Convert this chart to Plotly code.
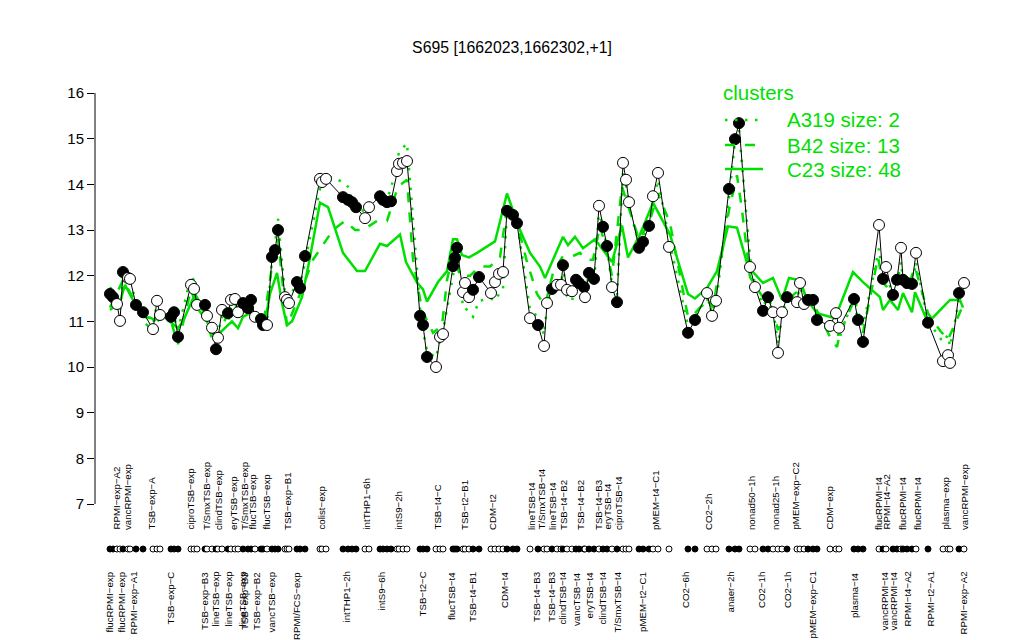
import plotly.graph_objects as go

# ---------------- data ----------------
cond_pos = [110,113,117,120,123,128,130,136,143,153,
            157,160,171,174,178,191,194,197,205,207,
            212,216,218,222,228,231,235,238,243,248,
            251,255,261,263,267,272,275,278,285,287,
            289,297,300,305,320,322,326,343,348,352,
            356,365,369,380,383,387,391,397,399,403,
            407,420,423,427,436,440,443,453,455,457,
            463,465,469,473,479,491,495,499,503,507,
            513,517,530,538,544,547,552,557,561,563,
            567,572,576,579,584,585,589,594,599,603,
            607,612,617,623,626,629,639,643,649,653,
            658,669,688,695,707,712,716,729,735,739,
            750,755,763,768,773,778,782,787,797,800,
            804,808,813,817,830,836,839,854,858,863,
            879,883,886,893,897,901,903,907,912,916,
            928,943,948,950,959,964]

expr = [11.60,11.53,11.38,11.01,12.08,11.95,11.93,11.36,11.20,10.83,
        11.45,11.14,11.10,11.20,10.66,11.80,11.71,11.36,11.36,11.12,
        10.86,10.39,10.64,11.25,11.18,11.47,11.49,11.20,11.40,11.29,
        11.47,11.10,11.05,10.92,10.92,12.41,12.56,13.00,11.53,11.47,
        11.40,11.86,11.73,12.43,14.12,14.05,14.12,13.72,13.66,13.61,
        13.50,13.26,13.50,13.74,13.66,13.61,13.63,14.29,14.45,14.47,
        14.51,11.12,10.92,10.22,10.00,10.66,10.72,12.21,12.39,12.61,
        11.64,11.84,11.53,11.69,11.97,11.62,11.86,12.04,12.08,13.42,
        13.33,13.15,11.07,10.92,10.46,11.40,11.71,11.80,11.80,12.23,
        11.69,11.66,11.91,11.84,11.75,11.53,12.06,11.93,13.53,13.07,
        12.65,11.75,11.42,14.47,14.10,13.61,12.61,12.74,13.09,13.74,
        14.25,12.63,10.75,11.03,11.62,11.12,11.45,13.90,14.99,15.34,
        12.19,11.75,11.23,11.53,11.20,10.31,11.20,11.53,11.42,11.84,
        11.38,11.47,11.47,11.03,10.90,11.18,10.86,11.49,11.03,10.55,
        13.11,11.93,12.19,11.58,11.91,12.61,11.91,11.84,11.82,12.50,
        10.97,10.13,10.26,10.09,11.62,11.84]

# 1 = filled (black), 0 = open (white)
filled = [1,1,0,0,1,0,0,1,1,0,
          0,0,1,1,1,0,0,0,1,0,
          0,1,0,0,1,0,0,0,1,1,
          1,0,1,1,0,1,1,1,0,0,
          0,1,1,1,0,0,0,1,1,1,
          1,0,0,1,1,1,1,0,0,0,
          0,1,1,1,0,0,0,1,1,1,
          0,0,0,1,1,0,0,0,0,1,
          1,1,0,1,0,0,1,0,0,1,
          0,0,1,1,1,0,1,1,0,1,
          1,0,1,0,0,0,1,1,1,0,
          0,0,1,1,0,0,0,1,1,1,
          0,0,1,1,0,0,0,1,0,0,
          0,1,1,1,0,0,0,1,1,1,
          0,1,0,1,1,0,1,1,1,0,
          1,0,0,0,1,0]

a319 = [11.75,11.65,11.45,11.2,11.95,11.9,11.85,11.45,11.3,10.95,
        11.4,11.15,11.05,11.1,10.8,12.0,11.9,11.5,11.3,11.1,
        10.85,10.6,10.75,11.1,11.0,11.3,11.4,11.2,11.35,11.3,
        11.4,11.2,11.1,10.95,11.0,12.35,12.7,13.25,11.6,11.55,
        11.5,11.85,11.8,12.3,13.9,14.0,14.2,14.05,13.95,13.7,
        13.5,13.4,13.55,13.8,13.75,13.7,13.9,14.5,14.7,14.8,
        14.9,11.3,10.8,10.35,10.2,10.6,10.8,12.0,12.3,12.6,
        11.3,11.3,11.2,11.1,11.45,11.5,11.45,11.6,11.7,13.45,
        13.3,13.2,11.25,11.1,10.7,11.3,11.7,11.8,11.75,12.2,
        11.55,11.45,11.8,11.75,11.6,11.5,12.1,11.8,13.45,13.0,
        12.6,11.8,11.55,14.3,14.0,13.5,12.7,12.85,13.15,13.6,
        14.1,12.8,10.9,11.1,11.5,11.2,11.4,13.7,14.95,15.2,
        12.4,11.8,11.35,11.5,11.3,10.5,11.1,11.6,11.5,11.75,
        11.5,11.45,11.4,11.1,10.75,11.0,10.6,11.55,11.2,10.9,
        12.6,11.9,12.0,11.6,11.8,12.3,11.85,11.8,11.75,12.3,
        11.0,10.55,10.7,10.45,11.45,11.6]

b42_x = [110,123,136,143,153,160,171,178,191,197,207,216,222,231,243,251,263,272,278,287,
         300,313,333,345,355,363,377,387,398,407,413,422,433,442,447,453,460,470,480,490,
         500,507,517,527,537,545,553,562,570,580,587,593,600,607,612,622,627,639,649,658,
         670,688,695,707,713,729,737,742,750,760,773,778,787,800,813,830,837,840,853,863,
         878,883,890,900,907,915,928,940,948,962]
b42_y = [11.3,11.9,11.4,11.0,10.8,11.1,11.0,10.5,11.7,11.3,11.0,10.3,10.9,11.3,11.3,11.2,10.9,12.2,12.8,10.9,
         11.6,12.35,13.0,13.2,13.0,13.0,13.2,13.2,13.95,14.1,12.35,11.25,10.75,10.9,11.9,12.5,12.0,12.0,12.2,12.2,
         12.4,13.5,13.15,12.3,11.6,11.35,12.06,12.4,12.4,12.5,12.35,12.35,13.1,12.5,12.0,13.95,13.6,12.8,13.15,13.8,
         13.15,11.1,11.18,11.47,11.3,13.44,14.2,13.44,11.97,11.62,11.25,10.81,11.47,11.7,11.4,10.66,10.44,10.75,11.4,10.75,
         12.4,11.84,11.69,12.06,11.69,12.19,11.18,10.8,10.6,11.3]

c23_x = [110,120,125,132,137,143,150,155,160,168,178,183,195,200,207,215,225,232,238,243,
         250,257,265,270,277,282,287,292,302,310,320,328,343,357,365,380,387,400,406,417,
         423,427,438,447,453,457,462,469,477,495,507,520,530,540,545,563,568,575,583,595,
         612,622,628,640,653,670,688,695,707,717,728,737,748,763,773,782,789,800,807,817,
         835,853,863,880,883,890,898,903,912,915,928,950,960,963]
c23_y = [11.25,11.43,11.8,11.5,11.3,11.1,11.08,11.03,11.2,11.03,10.85,11.0,11.6,11.4,10.99,10.65,10.85,11.0,10.85,11.1,
         11.18,11.05,11.0,11.6,12.06,11.4,10.92,11.0,11.53,12.4,13.6,13.5,12.5,12.1,12.1,12.7,12.65,12.9,12.3,11.85,
         11.7,11.43,11.86,12.1,12.8,12.8,12.45,12.4,12.5,12.75,13.8,13.0,12.5,12.2,11.95,12.85,12.67,12.85,12.6,12.8,
         12.3,13.1,12.4,12.9,13.6,12.9,11.6,11.5,11.73,12.1,13.08,13.05,12.2,11.84,11.95,11.47,11.95,11.9,11.47,11.18,
         11.07,12.08,11.86,11.53,11.25,11.47,11.25,11.62,11.2,11.64,10.97,11.47,11.47,11.3]

top_labels = [("RPMI\u2212exp\u2212A2",117),("vancRPMI\u2212exp",127),("TSB\u2212exp\u2212A",152),
              ("ciproTSB\u2212exp",191),("T/SmxTSB\u2212exp",206),("clindTSB\u2212exp",218),
              ("eryTSB\u2212exp",233),("T/SmxTSB\u2212exp",244),("flucTSB\u2212exp",253),
              ("flucTSB\u2212exp",267),("TSB\u2212exp\u2212B1",287),("colist\u2212exp",322),
              ("intTHP1\u22126h",367),("intS9\u22122h",399),("TSB\u2212t4\u2212C",438),
              ("TSB\u2212t2\u2212B1",464),("CDM\u2212t2",492),("lineTSB\u2212t4",531),
              ("T/SmxTSB\u2212t4",542),("lineTSB\u2212t4",552),("TSB\u2212t4\u2212B2",563),
              ("TSB\u2212t4\u2212B2",580),("TSB\u2212t4\u2212B3",598),("eryTSB\u2212t4",608),
              ("ciproTSB\u2212t4",618),("pMEM\u2212t4\u2212C1",655),("CO2\u22122h",708),
              ("nonad50\u22121h",751),("nonad25\u22121h",775),("pMEM\u2212exp\u2212C2",796),
              ("CDM\u2212exp",830),("flucRPMI\u2212t4",878),("RPMI\u2212t4\u2212A2",887),
              ("flucRPMI\u2212t4",902),("flucRPMI\u2212t4",917),("plasma\u2212exp",946),
              ("vancRPMI\u2212exp",964)]

bottom_labels = [("flucRPMI\u2212exp",109),("flucRPMI\u2212exp",121),("RPMI\u2212exp\u2212A1",133),
                 ("TSB\u2212exp\u2212C",170),("TSB\u2212exp\u2212B3",205),("lineTSB\u2212exp",215),
                 ("lineTSB\u2212exp",228),("lineTSB\u2212exp",242),("TSB\u2212exp\u2212B3",245),
                 ("TSB\u2212exp\u2212B2",257),("vancTSB\u2212exp",271),("RPMI/FCS\u2212exp",297),
                 ("intTHP1\u22122h",346),("intS9\u22126h",381),("TSB\u2212t2\u2212C",422),
                 ("flucTSB\u2212t4",452),("TSB\u2212t4\u2212B1",473),("CDM\u2212t4",505),
                 ("TSB\u2212t4\u2212B3",537),("TSB\u2212t4\u2212B3",552),("clindTSB\u2212t4",562),
                 ("vancTSB\u2212t4",577),("eryTSB\u2212t4",589),("clindTSB\u2212t4",602),
                 ("T/SmxTSB\u2212t4",617),("pMEM\u2212t2\u2212C1",643),("CO2\u22126h",686),
                 ("anaer\u22122h",730),("CO2\u22121h",762),("CO2\u22121h",788),
                 ("pMEM\u2212exp\u2212C1",812),("plasma\u2212t4",855),("vancRPMI\u2212t4",884),
                 ("vancRPMI\u2212t4",893),("RPMI\u2212t4\u2212A2",907),("RPMI\u2212t2\u2212A1",930),
                 ("RPMI\u2212exp\u2212A2",963)]

cluster_names = ["A319 size: 2", "B42 size: 13", "C23 size: 48"]
y_ticks = [7, 8, 9, 10, 11, 12, 13, 14, 15, 16]
title_text = "S695 [1662023,1662302,+1]"

assert len(cond_pos) == len(expr) == len(filled) == len(a319)
assert len(b42_x) == len(b42_y) and len(c23_x) == len(c23_y)

# ---------------- styling ----------------
GREEN = "#00e000"
FONT = "Liberation Sans, Arial, Helvetica, sans-serif"
Y_MAX = 16.3066
Y_MIN = 4.0228
DOT_ROW_Y = 6.015
TOP_LABEL_Y = 6.387
BOTTOM_LABEL_Y = 5.556
LABEL_SIZE = 9.7
DASHES = ["2.5px,7.5px", "10px,10px", "solid"]
LEG_Y = [15.409, 14.861, 14.336]
LEG_TITLE_Y = 16.02

fig = go.Figure()

fig.add_trace(go.Scatter(x=cond_pos, y=a319, mode="lines", name=cluster_names[0],
                         showlegend=False, line=dict(color=GREEN, width=2.5, dash=DASHES[0])))
fig.add_trace(go.Scatter(x=b42_x, y=b42_y, mode="lines", name=cluster_names[1],
                         showlegend=False, line=dict(color=GREEN, width=2.5, dash=DASHES[1])))
fig.add_trace(go.Scatter(x=c23_x, y=c23_y, mode="lines", name=cluster_names[2],
                         showlegend=False, line=dict(color=GREEN, width=2.5)))

colors = ["black" if f else "white" for f in filled]
fig.add_trace(go.Scatter(x=cond_pos, y=expr, mode="lines+markers", showlegend=False,
                         line=dict(color="black", width=1),
                         marker=dict(size=11, color=colors, line=dict(color="black", width=1))))

fig.add_trace(go.Scatter(x=cond_pos, y=[DOT_ROW_Y] * len(cond_pos), mode="markers",
                         showlegend=False, cliponaxis=False,
                         marker=dict(size=6, color=colors, line=dict(color="black", width=1))))

annotations = []
for txt, xv in top_labels:
    annotations.append(dict(x=xv, y=TOP_LABEL_Y, xref="x", yref="y", text=txt,
                            textangle=-90, showarrow=False, xanchor="center", yanchor="bottom",
                            font=dict(family=FONT, size=LABEL_SIZE, color="black")))
for txt, xv in bottom_labels:
    annotations.append(dict(x=xv, y=BOTTOM_LABEL_Y, xref="x", yref="y", text=txt,
                            textangle=-90, showarrow=False, xanchor="center", yanchor="top",
                            font=dict(family=FONT, size=LABEL_SIZE, color="black")))

# legend (drawn manually to match spacing)
annotations.append(dict(x=721, y=LEG_TITLE_Y, xref="x", yref="y", text="clusters",
                        showarrow=False, xanchor="left", yanchor="middle",
                        font=dict(family=FONT, size=20.5, color=GREEN)))
shapes = [dict(type="line", xref="paper", yref="y", x0=0, x1=0, y0=7, y1=16,
               line=dict(color="black", width=1))]
for name, ly, dsh in zip(cluster_names, LEG_Y, DASHES):
    annotations.append(dict(x=785, y=ly, xref="x", yref="y", text=name,
                            showarrow=False, xanchor="left", yanchor="middle",
                            font=dict(family=FONT, size=20.5, color=GREEN)))
    shapes.append(dict(type="line", xref="x", yref="y", x0=725, x1=763, y0=ly, y1=ly,
                       line=dict(color=GREEN, width=2.5, dash=dsh)))

fig.update_layout(
    width=1016, height=632,
    margin=dict(l=87, r=44, t=71, b=0),
    paper_bgcolor="white", plot_bgcolor="white",
    font=dict(family=FONT, color="black"),
    title=dict(text=title_text, x=0.4961, xref="container", y=1 - 39 / 632,
               yref="container", xanchor="center", yanchor="middle",
               font=dict(family=FONT, size=15.8, color="black")),
    xaxis=dict(range=[95, 980], visible=False, showgrid=False, zeroline=False),
    yaxis=dict(range=[Y_MIN, Y_MAX], tickvals=y_ticks, ticks="outside", ticklen=7,
               tickcolor="black", tickwidth=1, showline=False, showgrid=False,
               zeroline=False, tickfont=dict(family=FONT, size=15, color="black")),
    annotations=annotations,
    shapes=shapes,
    showlegend=False,
)

fig.write_html("out.html")
